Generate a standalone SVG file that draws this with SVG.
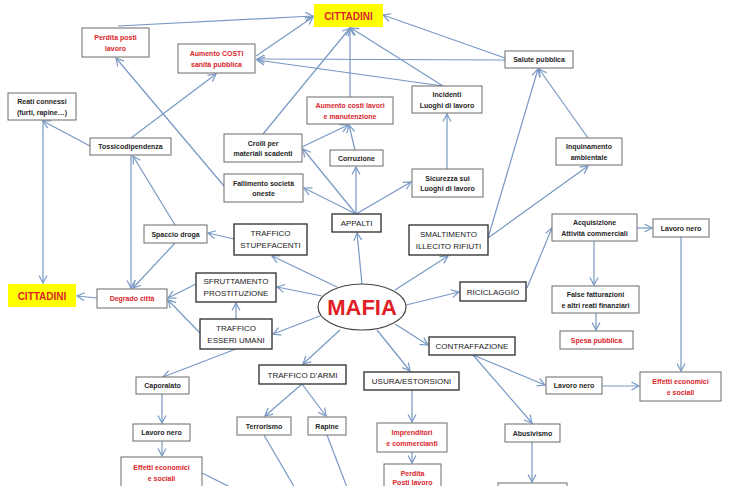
<svg xmlns="http://www.w3.org/2000/svg" width="741" height="486" viewBox="0 0 741 486">
<style>
.bg{fill:#ffffff}
.c line{stroke:#7898c4;stroke-width:1.2;fill:none}
.b{fill:#fff;stroke:#6a6a6a;stroke-width:1}
.B{fill:#fff;stroke:#3a3a3a;stroke-width:1.4}
.y{fill:#ffff00;stroke:none}
text{font-family:"Liberation Sans",Arial,sans-serif;text-anchor:middle}
.s{font-size:7px;font-weight:bold;fill:#262626}
.r{font-size:7px;font-weight:bold;fill:#d9262c}
.u{font-size:8px;fill:#1a1a1a}
.cit{font-size:10px;font-weight:bold;fill:#d9262c}
.mafia{font-size:22px;font-weight:bold;fill:#e01e26}
</style>
<defs>
<marker id="a" markerWidth="10" markerHeight="10" refX="8.5" refY="5" orient="auto" markerUnits="userSpaceOnUse">
<path d="M1,1 L8.5,5 L1,9" fill="none" stroke="#7898c4" stroke-width="1.2"/>
</marker>
</defs>
<rect class="bg" x="0" y="0" width="741" height="486"/>
<g id="connectors" class="c">
<line x1="118" y1="26" x2="313" y2="16" marker-end="url(#a)"/>
<line x1="256" y1="56" x2="313" y2="17" marker-end="url(#a)"/>
<line x1="505" y1="60" x2="257" y2="59" marker-end="url(#a)"/>
<line x1="443" y1="86" x2="257" y2="60" marker-end="url(#a)"/>
<line x1="505" y1="58" x2="383" y2="15" marker-end="url(#a)"/>
<line x1="131" y1="138" x2="216" y2="74" marker-end="url(#a)"/>
<line x1="90" y1="146" x2="43" y2="121" marker-end="url(#a)"/>
<line x1="43" y1="120" x2="43" y2="283" marker-end="url(#a)"/>
<line x1="224" y1="186" x2="116" y2="58" marker-end="url(#a)"/>
<line x1="263" y1="134" x2="350" y2="28" marker-end="url(#a)"/>
<line x1="350" y1="97" x2="350" y2="28" marker-end="url(#a)"/>
<line x1="443" y1="86" x2="351" y2="28" marker-end="url(#a)"/>
<line x1="302" y1="147" x2="348" y2="125" marker-end="url(#a)"/>
<line x1="355" y1="150" x2="349" y2="125" marker-end="url(#a)"/>
<line x1="447" y1="169" x2="447" y2="114" marker-end="url(#a)"/>
<line x1="356" y1="214" x2="303" y2="149" marker-end="url(#a)"/>
<line x1="356" y1="214" x2="356" y2="167" marker-end="url(#a)"/>
<line x1="356" y1="214" x2="304" y2="188" marker-end="url(#a)"/>
<line x1="356" y1="214" x2="411" y2="182" marker-end="url(#a)"/>
<line x1="362" y1="284" x2="357" y2="233" marker-end="url(#a)"/>
<line x1="337" y1="287" x2="272" y2="256" marker-end="url(#a)"/>
<line x1="395" y1="290" x2="448" y2="256" marker-end="url(#a)"/>
<line x1="322" y1="296" x2="277" y2="287" marker-end="url(#a)"/>
<line x1="320" y1="316" x2="273" y2="334" marker-end="url(#a)"/>
<line x1="406" y1="305" x2="459" y2="292" marker-end="url(#a)"/>
<line x1="340" y1="330" x2="303" y2="364" marker-end="url(#a)"/>
<line x1="377" y1="330" x2="410" y2="371" marker-end="url(#a)"/>
<line x1="395" y1="324" x2="428" y2="345" marker-end="url(#a)"/>
<line x1="234" y1="239" x2="208" y2="233" marker-end="url(#a)"/>
<line x1="175" y1="225" x2="133" y2="156" marker-end="url(#a)"/>
<line x1="131" y1="155" x2="131" y2="288" marker-end="url(#a)"/>
<line x1="175" y1="243" x2="133" y2="288" marker-end="url(#a)"/>
<line x1="97" y1="298" x2="77" y2="296" marker-end="url(#a)"/>
<line x1="196" y1="284" x2="168" y2="298" marker-end="url(#a)"/>
<line x1="200" y1="333" x2="168" y2="300" marker-end="url(#a)"/>
<line x1="236" y1="319" x2="236" y2="303" marker-end="url(#a)"/>
<line x1="236" y1="349" x2="163" y2="377" marker-end="url(#a)"/>
<line x1="162" y1="394" x2="162" y2="423" marker-end="url(#a)"/>
<line x1="162" y1="441" x2="162" y2="456" marker-end="url(#a)"/>
<line x1="202" y1="473" x2="240" y2="492"/>
<line x1="302" y1="384" x2="265" y2="416" marker-end="url(#a)"/>
<line x1="302" y1="384" x2="326" y2="416" marker-end="url(#a)"/>
<line x1="264" y1="435" x2="296" y2="490"/>
<line x1="327" y1="435" x2="348" y2="490"/>
<line x1="412" y1="390" x2="412" y2="422" marker-end="url(#a)"/>
<line x1="412" y1="452" x2="412" y2="463" marker-end="url(#a)"/>
<line x1="473" y1="355" x2="545" y2="385" marker-end="url(#a)"/>
<line x1="473" y1="355" x2="532" y2="423" marker-end="url(#a)"/>
<line x1="532" y1="442" x2="532" y2="482" marker-end="url(#a)"/>
<line x1="602" y1="386" x2="639" y2="386" marker-end="url(#a)"/>
<line x1="681" y1="237" x2="681" y2="371" marker-end="url(#a)"/>
<line x1="637" y1="228" x2="652" y2="228" marker-end="url(#a)"/>
<line x1="594" y1="241" x2="594" y2="285" marker-end="url(#a)"/>
<line x1="596" y1="313" x2="596" y2="330" marker-end="url(#a)"/>
<line x1="527" y1="288" x2="552" y2="228" marker-end="url(#a)"/>
<line x1="488" y1="238" x2="538" y2="69" marker-end="url(#a)"/>
<line x1="488" y1="238" x2="588" y2="166" marker-end="url(#a)"/>
<line x1="588" y1="138" x2="539" y2="69" marker-end="url(#a)"/>
</g>
<g id="cittadini-top"><rect class="y" x="314" y="4" width="69" height="23"/><text class="cit" x="348.5" y="19.5">CITTADINI</text></g>
<g id="perdita-posti-lavoro"><rect class="b" x="82" y="28" width="67" height="29"/><text class="r" x="115.5" y="40">Perdita posti</text><text class="r" x="115.5" y="50.5">lavoro</text></g>
<g id="aumento-costi-sanita"><rect class="b" x="178" y="44" width="77" height="29"/><text class="r" x="216.5" y="56">Aumento COSTI</text><text class="r" x="216.5" y="66.5">sanità pubblica</text></g>
<g id="reati-connessi"><rect class="b" x="8" y="93" width="68" height="27"/><text class="s" x="42" y="104">Reati connessi</text><text class="s" x="42" y="114.5">(furti, rapine…)</text></g>
<g id="tossicodipendenza"><rect class="b" x="90" y="138" width="81" height="17"/><text class="s" x="130.5" y="149">Tossicodipendenza</text></g>
<g id="crolli"><rect class="b" x="224" y="134" width="78" height="28"/><text class="s" x="263" y="145.5">Crolli per</text><text class="s" x="263" y="156">materiali scadenti</text></g>
<g id="aumento-costi-lavori"><rect class="b" x="307" y="97" width="86" height="27"/><text class="r" x="350" y="108">Aumento costi lavori</text><text class="r" x="350" y="118.5">e manutenzione</text></g>
<g id="corruzione"><rect class="b" x="330" y="150" width="53" height="16"/><text class="s" x="356.5" y="160.5">Corruzione</text></g>
<g id="incidenti"><rect class="b" x="412" y="86" width="70" height="27"/><text class="s" x="447" y="97">Incidenti</text><text class="s" x="447" y="107.5">Luoghi di lavoro</text></g>
<g id="salute-pubblica"><rect class="b" x="505" y="51" width="68" height="17"/><text class="s" x="539" y="62">Salute pubblica</text></g>
<g id="inquinamento"><rect class="b" x="556" y="138" width="66" height="27"/><text class="s" x="589" y="149">Inquinamento</text><text class="s" x="589" y="159.5">ambientale</text></g>
<g id="fallimento"><rect class="b" x="224" y="174" width="79" height="28"/><text class="s" x="263.5" y="185.5">Fallimento società</text><text class="s" x="263.5" y="196">oneste</text></g>
<g id="sicurezza"><rect class="b" x="412" y="169" width="71" height="28"/><text class="s" x="447.5" y="180.5">Sicurezza sui</text><text class="s" x="447.5" y="191">Luoghi di lavoro</text></g>
<g id="appalti"><rect class="B" x="332" y="214" width="49" height="18"/><text class="u" x="356.5" y="226">APPALTI</text></g>
<g id="traffico-stupefacenti"><rect class="B" x="234" y="224" width="73" height="31"/><text class="u" x="270.5" y="236">TRAFFICO</text><text class="u" x="270.5" y="248">STUPEFACENTI</text></g>
<g id="spaccio-droga"><rect class="b" x="144" y="225" width="63" height="18"/><text class="s" x="175.5" y="236.5">Spaccio droga</text></g>
<g id="smaltimento"><rect class="B" x="409" y="225" width="79" height="30"/><text class="u" x="448.5" y="236.5">SMALTIMENTO</text><text class="u" x="448.5" y="248.5">ILLECITO RIFIUTI</text></g>
<g id="acquisizione"><rect class="b" x="552" y="214" width="85" height="27"/><text class="s" x="594.5" y="225">Acquisizione</text><text class="s" x="594.5" y="235.5">Attività commerciali</text></g>
<g id="lavoro-nero-1"><rect class="b" x="653" y="219" width="56" height="18"/><text class="s" x="681" y="230.5">Lavoro nero</text></g>
<g id="cittadini-left"><rect class="y" x="8" y="284" width="68" height="23"/><text class="cit" x="42" y="299.5">CITTADINI</text></g>
<g id="degrado-citta"><rect class="b" x="97" y="289" width="70" height="19"/><text class="r" x="132" y="301">Degrado città</text></g>
<g id="sfruttamento"><rect class="B" x="196" y="273" width="80" height="29"/><text class="u" x="236" y="284">SFRUTTAMENTO</text><text class="u" x="236" y="296">PROSTITUZIONE</text></g>
<g id="mafia"><ellipse cx="362" cy="307" rx="44" ry="23" fill="#fff" stroke="#444" stroke-width="1.2"/><text class="mafia" x="362" y="315">MAFIA</text></g>
<g id="riciclaggio"><rect class="B" x="460" y="282" width="66" height="19"/><text class="u" x="493" y="294.5">RICICLAGGIO</text></g>
<g id="false-fatturazioni"><rect class="b" x="552" y="286" width="87" height="27"/><text class="s" x="595.5" y="297">False fatturazioni</text><text class="s" x="595.5" y="307.5">e altri reati finanziari</text></g>
<g id="traffico-esseri-umani"><rect class="B" x="200" y="319" width="72" height="30"/><text class="u" x="236" y="330.5">TRAFFICO</text><text class="u" x="236" y="342.5">ESSERI UMANI</text></g>
<g id="spesa-pubblica"><rect class="b" x="560" y="331" width="73" height="18"/><text class="r" x="596.5" y="342.5">Spesa pubblica</text></g>
<g id="contraffazione"><rect class="B" x="429" y="337" width="86" height="18"/><text class="u" x="472" y="349">CONTRAFFAZIONE</text></g>
<g id="caporalato"><rect class="b" x="136" y="377" width="53" height="17"/><text class="s" x="162.5" y="388">Caporalato</text></g>
<g id="traffico-armi"><rect class="B" x="259" y="365" width="87" height="19"/><text class="u" x="302.5" y="377.5">TRAFFICO D’ARMI</text></g>
<g id="usura"><rect class="B" x="364" y="372" width="95" height="18"/><text class="u" x="411.5" y="384">USURA/ESTORSIONI</text></g>
<g id="lavoro-nero-2"><rect class="b" x="546" y="377" width="56" height="17"/><text class="s" x="574" y="388">Lavoro nero</text></g>
<g id="effetti-right"><rect class="b" x="640" y="372" width="81" height="29"/><text class="r" x="680.5" y="384">Effetti economici</text><text class="r" x="680.5" y="395">e sociali</text></g>
<g id="lavoro-nero-3"><rect class="b" x="133" y="424" width="57" height="17"/><text class="s" x="161.5" y="435">Lavoro nero</text></g>
<g id="terrorismo"><rect class="b" x="237" y="417" width="54" height="18"/><text class="s" x="264" y="428.5">Terrorismo</text></g>
<g id="rapine"><rect class="b" x="308" y="417" width="38" height="18"/><text class="s" x="327" y="428.5">Rapine</text></g>
<g id="imprenditori"><rect class="b" x="377" y="423" width="70" height="29"/><text class="r" x="412" y="435">Imprenditori</text><text class="r" x="412" y="445.5">e commercianti</text></g>
<g id="abusivismo"><rect class="b" x="505" y="424" width="55" height="18"/><text class="s" x="532.5" y="435.5">Abusivismo</text></g>
<g id="perdita-posti-lavoro-2"><rect class="b" x="384" y="464" width="57" height="30"/><text class="r" x="412.5" y="475.5">Perdita</text><text class="r" x="412.5" y="485">Posti lavoro</text></g>
<g id="effetti-left"><rect class="b" x="121" y="457" width="81" height="35"/><text class="r" x="161.5" y="469.5">Effetti economici</text><text class="r" x="161.5" y="480.5">e sociali</text></g>
<g id="abusivismo-effect"><rect class="b" x="498" y="483" width="69" height="20"/></g>
</svg>
